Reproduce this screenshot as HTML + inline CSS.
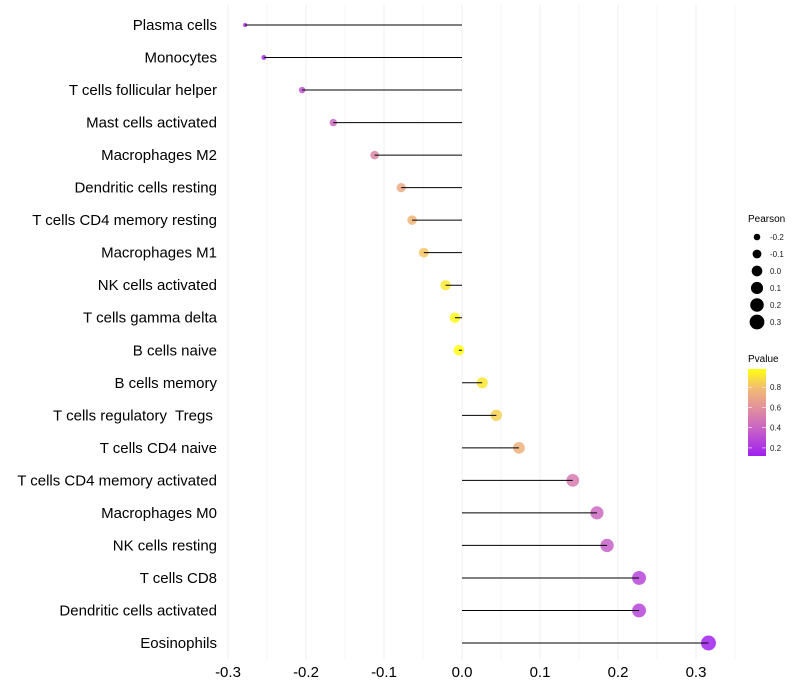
<!DOCTYPE html>
<html><head><meta charset="utf-8">
<style>
html,body{margin:0;padding:0;background:#fff;}
svg{display:block;font-family:"Liberation Sans",Arial,sans-serif;}
text{white-space:pre;}
</style></head>
<body>
<svg id="chart" width="800" height="700" viewBox="0 0 800 700">
<defs>
<linearGradient id="pgrad" x1="0" y1="1" x2="0" y2="0">
<stop offset="0" stop-color="#A020F0"/>
<stop offset="0.3" stop-color="#C660C8"/>
<stop offset="0.55" stop-color="#E2909E"/>
<stop offset="0.78" stop-color="#F2BC72"/>
<stop offset="1" stop-color="#FFFF10"/>
</linearGradient>
</defs>
<g id="grid"></g>
<g id="marks"></g>
<g id="ylabels"></g>
<g id="xlabels"></g>
<g id="legend"></g>
</svg>
<script>
const categories = ["Plasma cells","Monocytes","T cells follicular helper","Mast cells activated","Macrophages M2","Dendritic cells resting","T cells CD4 memory resting","Macrophages M1","NK cells activated","T cells gamma delta","B cells naive","B cells memory","T cells regulatory  Tregs ","T cells CD4 naive","T cells CD4 memory activated","Macrophages M0","NK cells resting","T cells CD8","Dendritic cells activated","Eosinophils"];
const pearson = [-0.278,-0.254,-0.205,-0.165,-0.112,-0.078,-0.064,-0.049,-0.021,-0.009,-0.004,0.026,0.044,0.073,0.142,0.173,0.186,0.227,0.227,0.316];
const pvalue = [0.14,0.18,0.32,0.42,0.55,0.72,0.76,0.82,0.92,0.96,0.99,0.91,0.85,0.74,0.5,0.42,0.38,0.27,0.27,0.13];
const xTicks = [-0.3,-0.2,-0.1,0.0,0.1,0.2,0.3];
const xTickLabels = ["-0.3","-0.2","-0.1","0.0","0.1","0.2","0.3"];
const sizeBreaks = [-0.2,-0.1,0.0,0.1,0.2,0.3];
const sizeLabels = ["-0.2","-0.1","0.0","0.1","0.2","0.3"];
const pBreaks = [0.2,0.4,0.6,0.8];
const pLabels = ["0.2","0.4","0.6","0.8"];

const NS="http://www.w3.org/2000/svg";
const x = v => 462 + v*780;
const y = i => 25 + i*(643-25)/(categories.length-1);
const rScale = v => Math.sqrt(Math.max(1, 28.3 + 87.5*v));
const pMin=0.12,pMax=0.98;
const stops=[[0,[160,32,240]],[0.3,[198,96,200]],[0.55,[226,144,158]],[0.78,[242,188,114]],[1,[255,255,16]]];
function pColor(p){let t=(p-pMin)/(pMax-pMin);t=Math.max(0,Math.min(1,t));
 for(let k=0;k<stops.length-1;k++){const a=stops[k],b=stops[k+1];if(t<=b[0]){const u=(t-a[0])/(b[0]-a[0]);const c=a[1].map((c0,j)=>Math.round(c0+(b[1][j]-c0)*u));return `rgb(${c})`;}}
 return "rgb(255,255,16)";}
function mk(tag,attrs,parent){const e=document.createElementNS(NS,tag);for(const k in attrs)e.setAttribute(k,attrs[k]);parent.appendChild(e);return e;}
const grid=document.getElementById('grid'),marks=document.getElementById('marks'),yl=document.getElementById('ylabels'),xl=document.getElementById('xlabels'),lg=document.getElementById('legend');
for(let v=-0.3;v<=0.3501;v+=0.05){const g=mk('line',{x1:x(v),x2:x(v),y1:5,y2:660,stroke:'#f0f0f0','stroke-width':Math.abs(Math.round(v*100))%10===0?1.1:0.6},grid);

}
categories.forEach((c,i)=>{
 const pt=mk('circle',{cx:x(pearson[i]),cy:y(i),r:rScale(pearson[i]),fill:pColor(pvalue[i]),'fill-opacity':0.85},marks);
 
 
 const ln=mk('line',{x1:x(0),x2:x(pearson[i]),y1:y(i),y2:y(i),stroke:'#000','stroke-width':1},marks);
 
 
 const t=mk('text',{x:217,y:y(i)+5,'text-anchor':'end','font-size':15,fill:'#000'},yl);
 t.textContent=c;
 
 
});
xTicks.forEach((v,i)=>{const t=mk('text',{x:x(v),y:677,'text-anchor':'middle','font-size':15,fill:'#000'},xl);t.textContent=xTickLabels[i];

});
const t1=mk('text',{x:748,y:222,'font-size':10,fill:'#000'},lg);t1.textContent='Pearson';


sizeBreaks.forEach((v,i)=>{const cy=237+i*17;
 const c=mk('circle',{cx:757,cy:cy,r:rScale(v),fill:'#000'},lg);
 
 
 const t=mk('text',{x:770,y:cy+3,'font-size':8,fill:'#1a1a1a'},lg);t.textContent=sizeLabels[i];
 
 });
const t2=mk('text',{x:748,y:362,'font-size':10,fill:'#000'},lg);t2.textContent='Pvalue';


const barTop=369,barBot=456;
const py=p=>barBot-(p-pMin)/(pMax-pMin)*(barBot-barTop);
const bar=mk('rect',{x:748,y:barTop,width:18,height:barBot-barTop,fill:'url(#pgrad)'},lg);


pBreaks.forEach((p,i)=>{
 mk('line',{x1:748,x2:752,y1:py(p),y2:py(p),stroke:'#fff','stroke-width':0.6},lg);
 mk('line',{x1:762,x2:766,y1:py(p),y2:py(p),stroke:'#fff','stroke-width':0.6},lg);
 const t=mk('text',{x:770,y:py(p)+3,'font-size':8,fill:'#1a1a1a'},lg);t.textContent=pLabels[i];
 
 });
</script>
</body></html>
